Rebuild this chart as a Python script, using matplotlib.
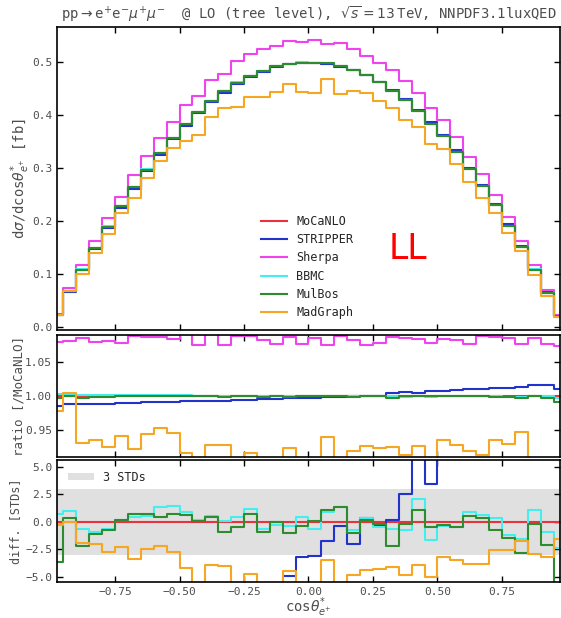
import numpy as np
import matplotlib
matplotlib.use("Agg")
import matplotlib.pyplot as plt
from matplotlib.patches import Patch

# 40 bins of width 0.05 in cos(theta*_e+)
bin_edges = np.linspace(-1.0, 1.0, 41)
bin_centers = 0.5 * (bin_edges[:-1] + bin_edges[1:])

names = ["MoCaNLO", "STRIPPER", "Sherpa", "BBMC", "MulBos", "MadGraph"]
colors = ["#e8333c", "#2233cc", "#ee44ee", "#44eeee", "#2e8b2e", "#f5a623"]

# reference prediction dsigma/dcos [fb]
mocanlo = [0.024, 0.068, 0.109, 0.150, 0.190, 0.228, 0.264, 0.297, 0.328, 0.357,
           0.383, 0.406, 0.427, 0.445, 0.461, 0.474, 0.484, 0.492, 0.497, 0.499,
           0.499, 0.497, 0.492, 0.485, 0.476, 0.462, 0.446, 0.428, 0.407, 0.384,
           0.360, 0.331, 0.298, 0.266, 0.230, 0.192, 0.151, 0.109, 0.065, 0.022]

# ratios to MoCaNLO
ratio_mocanlo = [1.0] * 40
ratio_stripper = [0.985, 0.988, 0.988, 0.989, 0.989, 0.990, 0.990, 0.991, 0.991, 0.992,
                  0.993, 0.993, 0.993, 0.993, 0.994, 0.995, 0.996, 0.996, 0.997, 0.998,
                  0.998, 0.999, 0.999, 1.000, 1.000, 1.001, 1.005, 1.006, 1.005, 1.007,
                  1.008, 1.009, 1.010, 1.011, 1.012, 1.012, 1.014, 1.016, 1.016, 1.011]
ratio_sherpa = [1.080, 1.082, 1.086, 1.080, 1.081, 1.078, 1.088, 1.087, 1.087, 1.084,
                1.092, 1.075, 1.092, 1.075, 1.089, 1.088, 1.083, 1.077, 1.087, 1.077,
                1.086, 1.076, 1.088, 1.083, 1.076, 1.079, 1.087, 1.086, 1.084, 1.078,
                1.084, 1.083, 1.077, 1.088, 1.087, 1.086, 1.077, 1.086, 1.077, 1.074]
ratio_bbmc = [1.003, 1.002, 1.002, 1.002, 1.002, 1.002, 1.002, 1.002, 1.002, 1.002,
              1.002, 1.001, 1.001, 1.001, 1.001, 1.001, 1.000, 1.000, 1.000, 1.001,
              1.000, 1.001, 1.001, 1.000, 1.000, 1.000, 1.000, 0.999, 1.001, 0.999,
              1.000, 1.000, 1.001, 1.000, 1.000, 0.999, 0.999, 1.001, 1.000, 0.998]
ratio_mulbos = [0.997, 1.000, 0.998, 0.999, 0.999, 1.000, 1.000, 1.000, 1.000, 1.000,
                1.000, 1.000, 1.000, 0.999, 1.000, 1.000, 0.999, 1.000, 0.999, 1.000,
                1.000, 1.001, 1.001, 0.999, 1.000, 1.000, 0.998, 1.000, 1.001, 1.000,
                1.000, 1.000, 1.000, 1.000, 0.999, 0.999, 0.998, 1.000, 0.998, 0.992]
ratio_madgraph = [0.978, 1.005, 0.931, 0.935, 0.926, 0.942, 0.922, 0.945, 0.953, 0.946,
                  0.917, 0.895, 0.928, 0.928, 0.900, 0.917, 0.895, 0.900, 0.924, 0.890,
                  0.885, 0.940, 0.895, 0.919, 0.927, 0.924, 0.926, 0.913, 0.927, 0.900,
                  0.935, 0.928, 0.919, 0.913, 0.935, 0.929, 0.947, 0.900, 0.895, 0.890]

# differences to MoCaNLO in units of standard deviations
diff_mocanlo = [0.0] * 40
diff_stripper = [-8.0, -8.0, -8.0, -8.0, -8.0, -8.0, -8.0, -8.0, -8.0, -8.0,
                 -8.0, -8.0, -8.0, -8.0, -8.0, -8.0, -8.0, -8.0, -4.95, -3.15,
                 -3.1, -1.7, -0.4, -2.05, 0.3, -0.3, 0.15, 2.56, 8.0, 3.46,
                 8.0, 8.0, 8.0, 8.0, 8.0, 8.0, 8.0, 8.0, 8.0, 8.0]
diff_sherpa = [30.0] * 40
diff_bbmc = [0.75, 0.96, -0.69, -0.9, -0.69, 0.15, 0.45, 0.54, 1.3, 1.42,
             0.9, 0.15, 0.51, 0.06, 0.45, 1.2, -0.69, -0.3, -0.4, 0.45,
             -0.69, 0.9, 1.3, -0.75, 0.36, -0.5, -0.66, -0.7, 2.1, -1.66,
             -0.4, -0.5, 0.87, 0.6, 0.3, -1.2, -1.6, 1.05, -0.9, -2.4]
diff_mulbos = [-3.6, 0.3, -2.2, -1.1, -0.75, 0.15, 0.7, 0.75, 0.4, 0.75,
               0.6, 0.05, 0.45, -0.9, -0.45, 0.7, -0.9, -0.05, -1.05, -0.4,
               0.1, 1.05, 1.3, -1.05, 0.15, -0.2, -2.2, -0.2, 1.1, -0.45,
               -0.3, -0.5, 0.57, 0.3, -0.75, -1.5, -2.86, -0.2, -2.1, -6.5]
diff_madgraph = [-0.25, 0.0, -1.9, -2.05, -2.7, -2.3, -3.35, -2.5, -2.2, -2.7,
                 -4.2, -7.0, -3.9, -4.0, -7.0, -4.7, -7.0, -7.0, -4.5, -7.0,
                 -7.0, -3.5, -7.0, -4.8, -4.4, -4.3, -4.1, -4.8, -3.9, -5.0,
                 -3.2, -3.5, -3.8, -3.8, -2.56, -2.56, -1.75, -2.9, -3.2, -1.6]

ratios = [ratio_mocanlo, ratio_stripper, ratio_sherpa, ratio_bbmc, ratio_mulbos, ratio_madgraph]
diffs = [diff_mocanlo, diff_stripper, diff_sherpa, diff_bbmc, diff_mulbos, diff_madgraph]

plt.rcParams["font.family"] = "DejaVu Sans Mono"
plt.rcParams["mathtext.fontset"] = "dejavusans"

TXT = "0.3"
fig = plt.figure(figsize=(5.61, 6.18), dpi=100)
ax1 = fig.add_axes([0.1016, 0.466, 0.8966, 0.4903])
ax2 = fig.add_axes([0.1016, 0.261, 0.8966, 0.197])
ax3 = fig.add_axes([0.1016, 0.0583, 0.8966, 0.1974])

ref = np.array(mocanlo)
for name, col, r in zip(names, colors, ratios):
    ax1.step(bin_centers, ref * np.array(r), where="mid", color=col, lw=1.5, label=name)
for col, r in zip(colors, ratios):
    ax2.step(bin_centers, r, where="mid", color=col, lw=1.5)

ax3.axhspan(-3, 3, color="0.88", lw=0)
for col, d in zip(colors, diffs):
    ax3.step(bin_centers, d, where="mid", color=col, lw=1.5)

for ax in (ax1, ax2, ax3):
    ax.set_xlim(-0.975, 0.975)
    ax.set_xticks([-0.75, -0.5, -0.25, 0.0, 0.25, 0.5, 0.75])
    ax.tick_params(direction="in", top=True, right=True, length=4, width=1,
                   labelsize=8, labelcolor=TXT)
    for s in ax.spines.values():
        s.set_linewidth(1.2)
ax1.tick_params(labelbottom=False)
ax2.tick_params(labelbottom=False)

ax1.set_ylim(-0.005, 0.566)
ax1.set_yticks([0.0, 0.1, 0.2, 0.3, 0.4, 0.5])
ax2.set_ylim(0.911, 1.0902)
ax2.set_yticks([0.95, 1.00, 1.05])
ax2.set_yticklabels(["0.95", "1.00", "1.05"])
ax3.set_ylim(-5.45, 5.6)
ax3.set_yticks([-5.0, -2.5, 0.0, 2.5, 5.0])
ax3.set_xticklabels(["\u22120.75", "\u22120.50", "\u22120.25", "0.00", "0.25", "0.50", "0.75"])

ax1.set_title(r"pp$\rightarrow$e$^{+}$e$^{-}\mu^{+}\mu^{-}$  @ LO (tree level), $\sqrt{s}=13\,$TeV, NNPDF3.1luxQED",
              fontsize=10, color=TXT, pad=6)
ax1.set_ylabel(r"d$\sigma$/dcos$\theta^{*}_{e^{+}}$ [fb]", fontsize=10, color=TXT)
ax1.yaxis.set_label_coords(-0.05, 0.5)
ax2.set_ylabel("ratio [/MoCaNLO]", fontsize=9, color=TXT)
ax2.yaxis.set_label_coords(-0.062, 0.5)
ax3.set_ylabel("diff. [STDs]", fontsize=8.5, color=TXT)
ax3.yaxis.set_label_coords(-0.07, 0.5)
ax3.set_xlabel(r"cos$\theta^{*}_{e^{+}}$", fontsize=10, color=TXT)
ax3.xaxis.set_label_coords(0.5, -0.115)

ax1.legend(loc="lower left", bbox_to_anchor=(0.405, 0.035), frameon=False, fontsize=8.5,
           handlelength=2.2, handletextpad=0.8, labelspacing=0.45, borderpad=0, borderaxespad=0,
           labelcolor="0.15")
ax1.text(0.697, 0.267, "LL", color="red", fontsize=25, family="DejaVu Sans",
         ha="center", va="center", transform=ax1.transAxes)

ax3.legend(handles=[Patch(facecolor="0.88", edgecolor="none", label="3 STDs")],
           loc="upper left", frameon=False, fontsize=8.5, handlelength=2.2,
           handleheight=0.6, handletextpad=0.8, borderaxespad=0.5, labelcolor="0.15")

fig.savefig("out.png", dpi=100)
